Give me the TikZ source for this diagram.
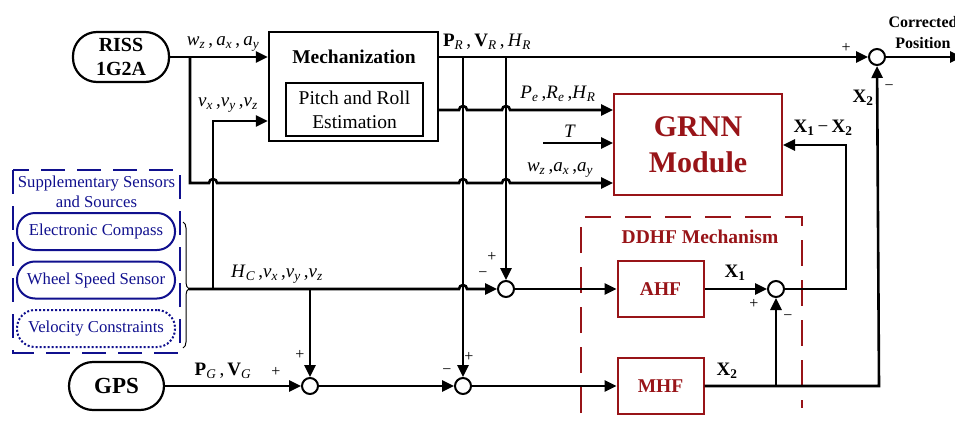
\documentclass[tikz,border=0pt]{standalone}
\usepackage{fontspec}
\setmainfont{Liberation Serif}
\usetikzlibrary{
  arrows.meta, % For arrow tips
  decorations.pathreplacing, % For the brace
  calc % For coordinate calculations
}
\definecolor{grnnred}{RGB}{152,20,24}
\definecolor{sensblue}{RGB}{16,16,142}

% Symbole mit Index
\newcommand{\symi}[2]{\textit{#1}\textsubscript{\textit{#2}}}
\newcommand{\symb}[2]{\textbf{#1}\textsubscript{\textit{#2}}}
\newcommand{\symx}[1]{\textbf{X}\textsubscript{\textbf{#1}}}
% Sprung ueber eine kreuzende Leitung
\newcommand{\hop}[2]{-- (#1-4,#2) arc[start angle=180, end angle=0, radius=4pt]}

\begin{document}
\begin{tikzpicture}[
    x=1pt, y=-1pt, % Pixel coordinates, y downwards
    line width=2.6pt, % Default line thickness
    >={Triangle[length=12pt,width=11pt]}, % Default arrow tip
    block/.style={draw, line width=2.2pt, inner sep=0pt},
    redblock/.style={draw=grnnred, text=grnnred, line width=2pt, inner sep=0pt,
      font=\fontsize{19.5}{23}\selectfont\bfseries},
    pill/.style={draw, line width=2.2pt, rounded corners=24pt, inner sep=0pt,
      align=center, font=\fontsize{20}{24}\selectfont\bfseries},
    sensor/.style={draw=sensblue, text=sensblue, line width=2pt, rounded corners=18pt,
      minimum width=158pt, minimum height=37pt, inner sep=0pt,
      font=\fontsize{16.7}{20}\selectfont},
    sumpt/.style={circle, draw, fill=white, line width=2pt, minimum size=16pt, inner sep=0pt},
    lbl/.style={inner sep=0pt, font=\fontsize{19}{22}\selectfont},
    sgn/.style={inner sep=0pt, font=\fontsize{16}{18}\selectfont},
  ]
  \useasboundingbox (0,0) rectangle (955,423);

  % Quellen
  \node[pill, minimum width=96pt, minimum height=50pt] (riss) at (121,57) {RISS\\1G2A};
  \node[pill, minimum width=95pt, minimum height=48pt,
    font=\fontsize{23}{26}\selectfont\bfseries] (gps) at (116.5,386) {GPS};

  % Zusatzsensoren
  \draw[sensblue, line width=2pt, dash pattern=on 24pt off 12pt] (13,170) rectangle (180,353);
  \node[align=center, text=sensblue, inner sep=0pt, font=\fontsize{16.7}{20}\selectfont]
    (supp) at (96.5,192) {Supplementary Sensors\\and Sources};
  \node[sensor] (compass) at (96,231.5) {Electronic Compass};
  \node[sensor] (wheel) at (96,280) {Wheel Speed Sensor};
  \node[sensor, dotted] (velcon) at (96,328.5) {Velocity Constraints};
  \draw[line width=1pt, decorate, decoration={brace, amplitude=6pt, aspect=0.53}]
    (183,222) -- (183,348);

  % Mechanisierung
  \node[block, minimum width=169pt, minimum height=109pt] (mech) at (353.5,86.5) {};
  \node[lbl, font=\fontsize{19.5}{23}\selectfont\bfseries] (mechtxt) at (354,57) {Mechanization};
  \node[draw, line width=1.2pt, minimum width=137pt, minimum height=53pt, inner sep=0pt,
    align=center, font=\fontsize{19.5}{24}\selectfont] (pitch) at (354.5,109.5)
    {Pitch and Roll\\Estimation};

  % GRNN und DDHF
  \node[redblock, minimum width=168pt, minimum height=101pt, align=center,
    font=\fontsize{30}{36}\selectfont\bfseries] (grnn) at (698,144.5) {GRNN\\Module};
  \draw[grnnred, line width=2pt, dash pattern=on 26pt off 14pt]
    (581,413) -- (581,217) -- (802,217) -- (802,408);
  \node[lbl, text=grnnred, font=\fontsize{19.5}{23}\selectfont\bfseries] (ddhf) at (700,237)
    {DDHF Mechanism};
  \node[redblock, minimum width=86pt, minimum height=56pt] (ahf) at (660.5,289) {AHF};
  \node[redblock, minimum width=86pt, minimum height=56pt] (mhf) at (660.5,386) {MHF};

  % Summenpunkte
  \node[sumpt] (s1) at (310,386) {};
  \node[sumpt] (s2) at (463,386) {};
  \node[sumpt] (s3) at (506,289) {};
  \node[sumpt] (s4) at (776,289) {};
  \node[sumpt] (s5) at (877,57) {};

  % Abzweigpunkte
  \coordinate (b1) at (190,57);
  \coordinate (b1d) at (190,183);
  \coordinate (b2) at (463,57);
  \coordinate (b3) at (506,57);
  \coordinate (vtap) at (213,289);
  \coordinate (vin) at (213,121);
  \coordinate (ptap) at (310,289);
  \coordinate (pin) at (438,110);
  \coordinate (tin) at (543,143);
  \coordinate (brtip) at (189,289);
  \coordinate (b6) at (776,386);
  \coordinate (x2c) at (879,386);
  \coordinate (fb1) at (846,289);
  \coordinate (fb2) at (846,145);
  \coordinate (out) at (962,57);

  % Signale
  \draw[->] (riss) -- (riss -| mech.west);
  \draw[->] (b1) -- (b1d) \hop{213}{183} \hop{463}{183} \hop{506}{183} -- (b1d -| grnn.west);
  \draw[->] (vtap) -- (vin) -- (vin -| mech.west);
  \draw[->] (riss -| mech.east) -- (s5);
  \draw[->] (b2) -- (s2);
  \draw[->] (b3) -- (s3);
  \draw[->] (pin) \hop{463}{110} \hop{506}{110} -- (pin -| grnn.west);
  \draw[->] (tin) -- (tin -| grnn.west);
  \draw[->] (brtip) \hop{463}{289} -- (s3);
  \draw[->] (ptap) -- (s1);
  \draw[->] (gps) -- (s1);
  \draw[->] (s1) -- (s2);
  \draw[->] (s2) -- (mhf);
  \draw[->] (s3) -- (ahf);
  \draw[->] (ahf) -- (s4);
  \draw[->] (mhf) -- (x2c) -- (s5);
  \draw[->] (b6) -- (s4);
  \draw[->] (s4) -- (fb1) -- (fb2) -- (fb2 -| grnn.east);
  \draw[->] (s5) -- (out);

  % Beschriftungen
  \node[lbl] (lin1) at (223,44) {\symi{w}{z}\,,\,\symi{a}{x}\,,\,\symi{a}{y}};
  \node[lbl] (lvel) at (228,105) {\symi{v}{x}\,,\symi{v}{y}\,,\symi{v}{z}};
  \node[lbl] (lrout) at (487,42) {\symb{P}{R}\,,\,\symb{V}{R}\,,\,\symi{H}{R}};
  \node[lbl] (lpe) at (558,94) {\symi{P}{e}\,,\symi{R}{e}\,,\symi{H}{R}};
  \node[lbl] (lt) at (570,131) {\textit{T}};
  \node[lbl] (lin2) at (560,170) {\symi{w}{z}\,,\symi{a}{x}\,,\symi{a}{y}};
  \node[lbl] (lhc) at (277,274) {\symi{H}{C}\,,\symi{v}{x}\,,\symi{v}{y}\,,\symi{v}{z}};
  \node[lbl] (lgps) at (223,371) {\symb{P}{G}\,,\,\symb{V}{G}};
  \node[lbl] (lx12) at (823,128) {\symx{1}\,−\,\symx{2}};
  \node[lbl] (lx2a) at (863,98) {\symx{2}};
  \node[lbl] (lx1) at (735,273) {\symx{1}};
  \node[lbl] (lx2b) at (727,371) {\symx{2}};
  \node[align=center, inner sep=0pt, font=\fontsize{16}{21}\selectfont\bfseries]
    (corr) at (923,33) {Corrected\\Position};

  % Vorzeichen
  \node[sgn] (p1) at (846,48) {+};
  \node[sgn] (m1) at (889,88) {−};
  \node[sgn] (p2) at (300,355) {+};
  \node[sgn] (p3) at (276,372) {+};
  \node[sgn] (m2) at (447,372) {−};
  \node[sgn] (p4) at (469,357) {+};
  \node[sgn] (p5) at (492,257) {+};
  \node[sgn] (m3) at (483,275) {−};
  \node[sgn] (p6) at (754,304) {+};
  \node[sgn] (m4) at (788,318) {−};
\end{tikzpicture}
\end{document}
